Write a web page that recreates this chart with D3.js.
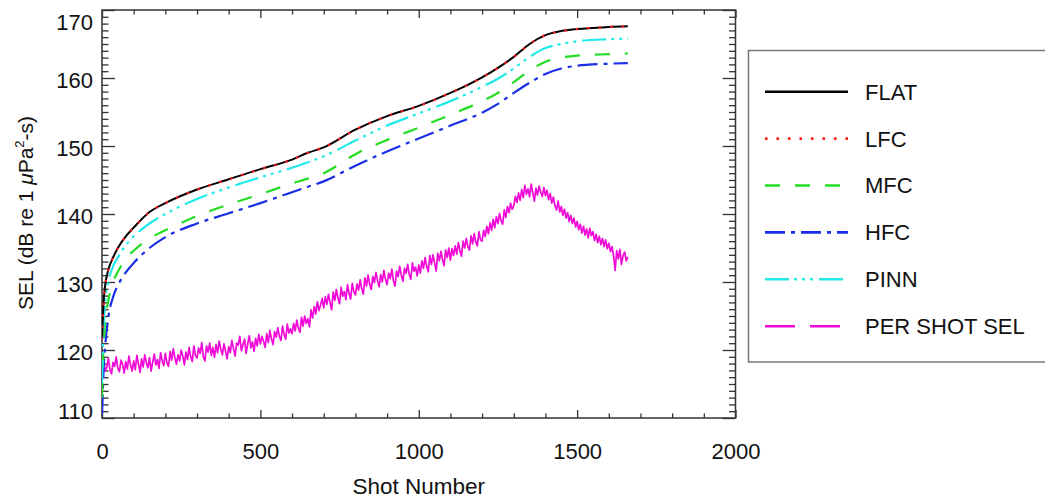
<!DOCTYPE html>
<html>
<head>
<meta charset="utf-8">
<script src="https://cdn.jsdelivr.net/npm/d3@7"></script>
<style>
  html, body { margin: 0; padding: 0; background: #fff; }
  svg { display: block; }
  text { font-family: "Liberation Sans", Arial, Helvetica, sans-serif; fill: #111; }
</style>
</head>
<body>
<svg id="chart" width="1045" height="498"></svg>
<script>
// ---------------- DATA ----------------
const xTicksMajor = [0, 500, 1000, 1500, 2000];
const yTicksMajor = [110, 120, 130, 140, 150, 160, 170];

// shot numbers at which the smooth cumulative curves were read
const shots = [0, 2, 5, 10, 20, 35, 50, 75, 100, 150, 200, 300, 400, 500, 600, 650, 700, 800, 900, 1000, 1100, 1200, 1250, 1300, 1350, 1400, 1450, 1500, 1600, 1660];

const flat = [121.5, 124.0, 127.0, 129.5, 131.8, 133.6, 135.0, 136.7, 138.0, 140.3, 141.6, 143.6, 145.1, 146.6, 148.0, 149.0, 149.8, 152.4, 154.4, 155.9, 157.8, 160.1, 161.5, 163.1, 165.0, 166.3, 166.9, 167.2, 167.5, 167.6];
const lfc  = [121.5, 124.0, 127.0, 129.5, 131.8, 133.6, 135.0, 136.7, 138.0, 140.3, 141.6, 143.6, 145.1, 146.6, 148.0, 149.0, 149.8, 152.4, 154.4, 155.9, 157.8, 160.1, 161.5, 163.1, 165.0, 166.3, 166.9, 167.2, 167.5, 167.6];
const mfc  = [113.0, 116.5, 120.5, 124.0, 127.3, 130.0, 131.5, 133.4, 134.6, 136.4, 137.6, 139.7, 141.4, 142.9, 144.5, 145.2, 146.0, 148.8, 150.9, 152.7, 154.6, 156.6, 157.8, 159.4, 161.1, 162.4, 163.0, 163.3, 163.5, 163.6];
const hfc  = [110.5, 113.0, 117.0, 120.5, 124.8, 127.8, 129.5, 131.4, 132.8, 135.0, 136.6, 138.6, 140.1, 141.6, 143.2, 144.0, 144.8, 147.1, 149.2, 151.1, 153.0, 154.9, 156.2, 157.8, 159.3, 160.6, 161.4, 161.8, 162.1, 162.2];
const pinn = [115.0, 119.0, 123.0, 127.0, 130.0, 132.3, 133.6, 135.4, 136.7, 138.6, 140.0, 142.2, 143.9, 145.4, 146.8, 147.6, 148.5, 150.8, 153.0, 154.8, 156.6, 158.7, 159.9, 161.4, 163.1, 164.4, 165.0, 165.4, 165.7, 165.8];

// per-shot SEL, read every 5 shots (shot 0 .. 1660)
const perShotStep = 5;
const perShot = [
  117.2, 118.6, 116.9, 117.4, 118.8, 117.1, 116.5, 118.2, 117.6, 119.0, 117.3, 116.8, 118.5, 117.9, 116.6, 118.3, 117.2, 119.1, 117.8, 116.9,
  118.4, 117.1, 119.2, 118.0, 116.7, 118.7, 117.5, 119.3, 118.1, 117.4, 118.9, 116.9, 118.2, 119.4, 117.8, 118.6, 117.3, 119.6, 118.4, 117.7,
  119.5, 118.1, 117.6, 119.8, 118.5, 120.2, 118.9, 117.9, 119.3, 118.4, 120.0, 119.1, 117.8, 119.7, 118.6, 120.4, 119.0, 118.3, 120.6, 119.2,
  118.8, 120.3, 119.5, 121.1, 119.0, 118.4, 120.6, 119.7, 121.0, 119.2, 120.4, 118.9, 120.8, 119.6, 121.3, 120.1, 119.3, 120.9, 119.8, 118.7,
  120.5, 119.6, 121.4, 120.2, 119.1, 121.0, 120.7, 122.0, 119.9, 120.8, 121.6, 119.5, 120.9, 122.1, 120.3, 121.2, 119.8, 121.7, 120.6, 122.3,
  120.9, 122.0, 121.3, 120.4, 122.4, 121.1, 122.9, 121.6, 120.8, 122.7, 121.9, 123.3, 122.0, 121.4, 123.5, 122.3, 121.6, 123.8, 122.5, 123.1,
  122.4, 123.9, 122.8, 124.4, 123.2, 122.6, 124.8, 123.5, 125.0, 123.9, 124.6, 123.4, 125.9, 124.7, 126.4, 125.3, 127.1, 125.8, 126.6, 127.6,
  126.2, 127.8, 126.7, 128.2, 127.0, 125.9, 128.5, 127.3, 128.9, 127.6, 126.8, 129.2, 127.9, 128.6, 127.4, 129.6, 128.3, 127.5, 129.8, 128.6,
  128.1, 129.7, 128.8, 130.3, 129.0, 128.2, 130.6, 129.4, 131.0, 129.7, 128.9, 130.8, 129.9, 131.4, 130.2, 129.3, 131.1, 130.0, 131.7, 130.4,
  129.6, 131.3, 130.5, 131.9, 130.2, 129.4, 131.6, 130.8, 132.3, 131.0, 130.1, 132.0, 131.3, 132.6, 131.1, 130.4, 132.8, 131.6, 132.2, 130.9,
  132.5, 131.3, 133.1, 132.0, 133.6, 132.3, 131.5, 133.9, 132.6, 134.0, 132.8, 131.6, 134.2, 133.1, 134.5, 133.3, 132.4, 134.7, 133.6, 135.0,
  133.2, 134.9, 133.9, 135.3, 134.1, 135.8, 134.6, 133.8, 136.0, 135.0, 136.4, 135.2, 134.7, 136.8, 135.6, 137.1, 135.9, 135.3, 137.4, 136.2,
  136.0, 137.6, 136.7, 138.2, 137.1, 138.7, 137.6, 139.2, 138.0, 139.6, 138.6, 140.1, 139.0, 138.5, 140.6, 139.5, 141.1, 140.2, 141.6, 140.7,
  141.2, 142.6, 141.7, 143.1, 142.0, 143.6, 142.4, 144.2, 142.9, 143.7, 142.5, 144.4, 143.1, 141.9, 143.8, 142.8, 144.1, 143.2, 142.6, 143.9,
  142.7, 143.5, 142.1, 143.0, 141.6, 142.5, 141.2, 140.6, 141.9, 140.3, 141.1, 139.8, 140.7, 139.4, 140.2, 138.9, 139.8, 138.6, 139.4, 138.1,
  138.9, 137.7, 138.5, 137.2, 138.2, 136.9, 137.8, 136.5, 137.9, 136.8, 137.4, 136.1, 137.0, 135.8, 136.7, 135.5, 136.4, 135.2, 136.2, 134.9,
  135.7, 134.5, 135.2, 133.9, 131.7, 134.6, 133.4, 134.8, 132.6, 133.9, 134.4, 133.1, 133.7
];

const seriesNames = ["FLAT", "LFC", "MFC", "HFC", "PINN", "PER SHOT SEL"];
const seriesColors = ["#000000", "#ff1a1a", "#22dd22", "#1a2ee6", "#22eaea", "#f20ad8"];
const seriesDash = ["none", "2.5,9", "15,15", "20,6,4,6", "24,5,3,5,3,5,3,6", "30,15"];

// ---------------- LAYOUT ----------------
const svg = d3.select("#chart");
const W = 1045, H = 498;
const plot = { left: 102, right: 735.5, top: 10, bottom: 418 };
const FONT = 22;

svg.append("rect").attr("width", W).attr("height", H).attr("fill", "#fff");

const x = d3.scaleLinear().domain([0, 2000]).range([plot.left, plot.right]);
const y = d3.scaleLinear().domain([110, 170]).range([plot.bottom, plot.top]);

const xMinor = d3.range(0, 2001, 100).filter(v => !xTicksMajor.includes(v));
const yMinor = d3.range(110, 171, 1).filter(v => !yTicksMajor.includes(v));

function styleAxis(g) {
  g.select(".domain").remove();
  g.selectAll(".tick line").attr("stroke", "#333").attr("stroke-width", 1.3);
  g.selectAll(".tick text").attr("font-size", FONT).attr("fill", "#111")
    .attr("font-family", '"Liberation Sans", Arial, Helvetica, sans-serif');
}

const xLen = 8, xLenMinor = 4.5, yLen = 13, yLenMinor = 6.5;

// bottom axis
svg.append("g").attr("transform", `translate(0,${plot.bottom})`)
  .call(d3.axisBottom(x).tickValues(xTicksMajor).tickSize(-xLen).tickPadding(25).tickFormat(d3.format("d")))
  .call(styleAxis);
svg.append("g").attr("transform", `translate(0,${plot.bottom})`)
  .call(d3.axisBottom(x).tickValues(xMinor).tickSize(-xLenMinor).tickFormat(""))
  .call(styleAxis);
// top axis
svg.append("g").attr("transform", `translate(0,${plot.top})`)
  .call(d3.axisTop(x).tickValues(xTicksMajor).tickSize(-xLen).tickFormat(""))
  .call(styleAxis);
svg.append("g").attr("transform", `translate(0,${plot.top})`)
  .call(d3.axisTop(x).tickValues(xMinor).tickSize(-xLenMinor).tickFormat(""))
  .call(styleAxis);
// left axis
const gLeft = svg.append("g").attr("transform", `translate(${plot.left},0)`)
  .call(d3.axisLeft(y).tickValues(yTicksMajor).tickSize(-yLen).tickPadding(9).tickFormat(d3.format("d")))
  .call(styleAxis);
gLeft.selectAll(".tick text")
  .attr("y", d => d === 170 ? 12.5 : (d === 110 ? -6.5 : 2));
svg.append("g").attr("transform", `translate(${plot.left},0)`)
  .call(d3.axisLeft(y).tickValues(yMinor).tickSize(-yLenMinor).tickFormat(""))
  .call(styleAxis);
// right axis
svg.append("g").attr("transform", `translate(${plot.right},0)`)
  .call(d3.axisRight(y).tickValues(yTicksMajor).tickSize(-yLen).tickFormat(""))
  .call(styleAxis);
svg.append("g").attr("transform", `translate(${plot.right},0)`)
  .call(d3.axisRight(y).tickValues(yMinor).tickSize(-yLenMinor).tickFormat(""))
  .call(styleAxis);

// frame
svg.append("rect")
  .attr("x", plot.left).attr("y", plot.top)
  .attr("width", plot.right - plot.left).attr("height", plot.bottom - plot.top)
  .attr("fill", "none").attr("stroke", "#333").attr("stroke-width", 1.5);

// clip
svg.append("clipPath").attr("id", "clip").append("rect")
  .attr("x", plot.left).attr("y", plot.top)
  .attr("width", plot.right - plot.left).attr("height", plot.bottom - plot.top);

// ---------------- LINES ----------------
const smoothLine = d3.line().x(d => x(d[0])).y(d => y(d[1])).curve(d3.curveMonotoneX);
const rawLine = d3.line().x(d => x(d[0])).y(d => y(d[1]));

const smoothSeries = [flat, lfc, mfc, hfc, pinn];
const gLines = svg.append("g").attr("clip-path", "url(#clip)");

const perShotPts = perShot.map((v, i) => [i * perShotStep, v]);
gLines.append("path")
  .attr("d", rawLine(perShotPts))
  .attr("fill", "none").attr("stroke", seriesColors[5]).attr("stroke-width", 1.7)
  .attr("stroke-linejoin", "round");

// draw order: HFC, MFC, PINN, FLAT, LFC on top
[3, 2, 4, 0, 1].forEach(i => {
  const pts = shots.map((s, k) => [s, smoothSeries[i][k]]);
  gLines.append("path")
    .attr("d", smoothLine(pts))
    .attr("fill", "none")
    .attr("stroke", seriesColors[i])
    .attr("stroke-width", i === 0 ? 2 : 2.2)
    .attr("stroke-dasharray", seriesDash[i] === "none" ? null : seriesDash[i]);
});

// ---------------- AXIS TITLES ----------------
svg.append("text")
  .attr("x", (plot.left + plot.right) / 2).attr("y", 494)
  .attr("text-anchor", "middle").attr("font-size", 22.5)
  .text("Shot Number");

const yTitle = svg.append("text")
  .attr("transform", `translate(33,${(plot.top + plot.bottom) / 2 - 1}) rotate(-90)`)
  .attr("text-anchor", "middle").attr("font-size", 21);
yTitle.append("tspan").text("SEL (dB re 1 ");
yTitle.append("tspan").attr("font-style", "italic").text("μ");
yTitle.append("tspan").text("Pa");
yTitle.append("tspan").attr("font-size", 13).attr("dy", -9).text("2");
yTitle.append("tspan").attr("dy", 9).text("-s)");

// ---------------- LEGEND ----------------
const leg = svg.append("g");
leg.append("rect")
  .attr("x", 748.5).attr("y", 50.5).attr("width", 300).attr("height", 311.5)
  .attr("fill", "#fff").attr("stroke", "#777").attr("stroke-width", 1.5);

const legY0 = 91.7, legStep = 46.9;
seriesNames.forEach((name, i) => {
  const yy = legY0 + i * legStep;
  leg.append("line")
    .attr("x1", 765).attr("x2", 848).attr("y1", yy).attr("y2", yy)
    .attr("stroke", seriesColors[i]).attr("stroke-width", 2.6)
    .attr("stroke-dasharray", seriesDash[i] === "none" ? null : seriesDash[i]);
  leg.append("text")
    .attr("x", 865).attr("y", yy).attr("dy", "0.36em")
    .attr("font-size", FONT).text(name);
});
</script>
</body>
</html>
